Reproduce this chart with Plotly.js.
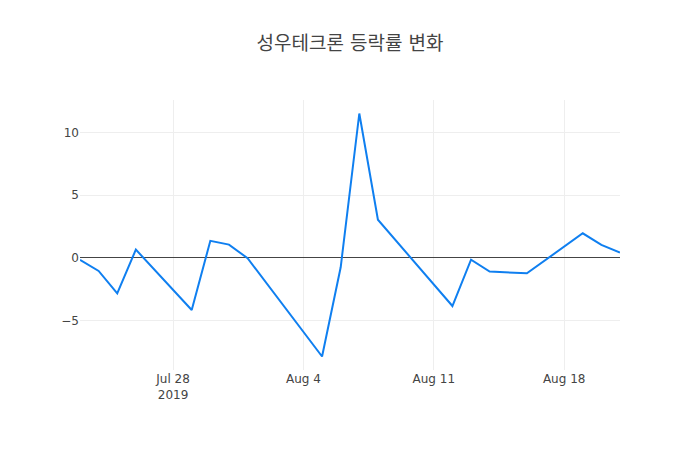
<!DOCTYPE html>
<html>
<head>
<meta charset="utf-8">
<script src="https://cdn.plot.ly/plotly-3.0.1.min.js"></script>
<style>
  body { margin: 0; }
  #chart { width: 700px; height: 450px; }
</style>
</head>
<body>
<div id="chart"></div>
<script>
// trading days and daily change (%)
var dates = [
    "2019-07-23", "2019-07-24", "2019-07-25", "2019-07-26",
    "2019-07-29", "2019-07-30", "2019-07-31", "2019-08-01",
    "2019-08-05", "2019-08-06", "2019-08-07", "2019-08-08",
    "2019-08-12", "2019-08-13", "2019-08-14", "2019-08-16",
    "2019-08-19", "2019-08-20", "2019-08-21"
];
var changes = [
    -0.16, -1.04, -2.83, 0.66,
    -4.16, 1.36, 1.06, -0.03,
    -7.87, -0.75, 11.52, 3.04,
    -3.84, -0.14, -1.09, -1.23,
    1.96, 1.03, 0.42
];
var chartTitle = "성우테크론 등락률 변화";

var trace1 = {
    x: dates,
    y: changes,
    mode: 'lines',
    type: 'scatter',
    line: { color: '#0f7ff0', width: 2 }
};

var layout = {
    width: 700,
    height: 450,
    title: {
        text: chartTitle,
        font: { family: '"DejaVu Sans", "Noto Sans CJK KR", sans-serif', size: 19, color: '#444' }
    },
    font: { family: '"DejaVu Sans", "Noto Sans CJK KR", sans-serif', size: 12, color: '#444' },
    margin: { l: 80, r: 80, t: 100, b: 80 },
    plot_bgcolor: '#fff',
    paper_bgcolor: '#fff',
    xaxis: {
        type: 'date',
        showgrid: true,
        gridcolor: '#eee'
    },
    yaxis: {
        showgrid: true,
        gridcolor: '#eee',
        zeroline: true,
        zerolinecolor: '#444',
        zerolinewidth: 1
    },
    showlegend: false
};

Plotly.newPlot('chart', [trace1], layout, { displayModeBar: false });
</script>
</body>
</html>
